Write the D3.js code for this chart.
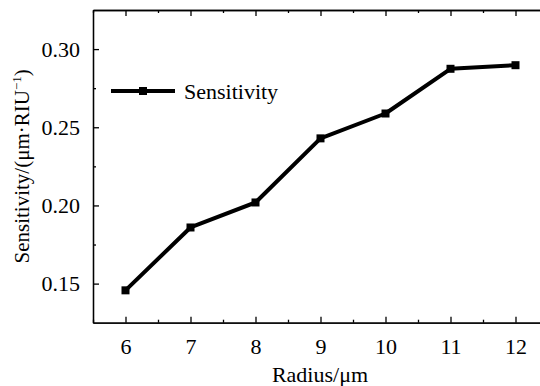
<!DOCTYPE html>
<html>
<head>
<meta charset="utf-8">
<script src="https://cdn.jsdelivr.net/npm/d3@7"></script>
<style>
    html, body { margin: 0; padding: 0; background: #fff; }
    svg text { font-family: "Liberation Serif", "Times New Roman", serif !important; }
</style>
</head>
<body>
<div id="chart"></div>
<script>
    // Data
    var radius = [6, 7, 8, 9, 10, 11, 12];
    var sensitivity = [0.1457, 0.1859, 0.2019, 0.2429, 0.2588, 0.2874, 0.2897];
    var yTicks = [0.15, 0.20, 0.25, 0.30];
    var xTicks = [6, 7, 8, 9, 10, 11, 12];
    var seriesName = "Sensitivity";

    var W = 540, H = 386;
    var plot = { left: 93, right: 548, top: 10, bottom: 322.7 };

    var svg = d3.select("#chart").append("svg")
        .attr("width", W)
        .attr("height", H);

    var x = d3.scaleLinear().domain([5.5, 12.5]).range([plot.left, plot.right]);
    var y = d3.scaleLinear().domain([0.125, 0.325]).range([plot.bottom, plot.top]);

    var xMinor = d3.range(5.5, 12.51, 0.5).filter(function (d) { return xTicks.indexOf(d) < 0; });
    var yMinor = [0.175, 0.225, 0.275];

    function styleAxis(g) {
        g.attr("font-family", null);
        g.select(".domain").attr("stroke", "#000").attr("stroke-width", 1.3);
        g.selectAll(".tick line").attr("stroke", "#000").attr("stroke-width", 1.3);
        g.selectAll(".tick text").attr("fill", "#000")
            .attr("font-size", "22px");
    }

    // Bottom axis, ticks pointing inward
    svg.append("g")
        .attr("transform", "translate(0," + plot.bottom + ")")
        .call(d3.axisBottom(x).tickValues(xTicks).tickSizeInner(-6).tickSizeOuter(0)
            .tickPadding(16).tickFormat(d3.format("d")))
        .call(styleAxis);
    svg.append("g")
        .attr("transform", "translate(0," + plot.bottom + ")")
        .call(d3.axisBottom(x).tickValues(xMinor).tickSizeInner(-3).tickSizeOuter(0).tickFormat(""))
        .call(styleAxis);

    // Top axis
    svg.append("g")
        .attr("transform", "translate(0," + plot.top + ")")
        .call(d3.axisTop(x).tickValues(xTicks).tickSizeInner(-6).tickSizeOuter(0).tickFormat(""))
        .call(styleAxis);
    svg.append("g")
        .attr("transform", "translate(0," + plot.top + ")")
        .call(d3.axisTop(x).tickValues(xMinor).tickSizeInner(-3).tickSizeOuter(0).tickFormat(""))
        .call(styleAxis);

    // Left axis
    svg.append("g")
        .attr("transform", "translate(" + plot.left + ",0)")
        .call(d3.axisLeft(y).tickValues(yTicks).tickSizeInner(-6).tickSizeOuter(0)
            .tickPadding(13).tickFormat(d3.format(".2f")))
        .call(styleAxis);
    svg.append("g")
        .attr("transform", "translate(" + plot.left + ",0)")
        .call(d3.axisLeft(y).tickValues(yMinor).tickSizeInner(-3).tickSizeOuter(0).tickFormat(""))
        .call(styleAxis);

    // Series line
    var pts = radius.map(function (r, i) { return [r, sensitivity[i]]; });
    var line = d3.line()
        .x(function (d) { return x(d[0]); })
        .y(function (d) { return y(d[1]); });

    svg.append("path")
        .datum(pts)
        .attr("fill", "none")
        .attr("stroke", "#000")
        .attr("stroke-width", 4)
        .attr("stroke-linejoin", "round")
        .attr("d", line);

    var ms = 8;
    svg.append("g").selectAll("rect")
        .data(pts)
        .enter().append("rect")
        .attr("x", function (d) { return x(d[0]) - ms / 2; })
        .attr("y", function (d) { return y(d[1]) - ms / 2; })
        .attr("width", ms)
        .attr("height", ms)
        .attr("fill", "#000");

    // Legend
    var lg = svg.append("g").attr("transform", "translate(111,91)");
    lg.append("line")
        .attr("x1", 0).attr("x2", 64).attr("y1", 0).attr("y2", 0)
        .attr("stroke", "#000").attr("stroke-width", 4);
    lg.append("rect")
        .attr("x", 32 - ms / 2).attr("y", -ms / 2)
        .attr("width", ms).attr("height", ms).attr("fill", "#000");
    lg.append("text")
        .attr("x", 73).attr("y", 8)
        .attr("font-size", "22px")
        .attr("fill", "#000")
        .text(seriesName);

    // Axis titles
    svg.append("text")
        .attr("x", 320)
        .attr("y", 382)
        .attr("text-anchor", "middle")
        .attr("font-size", "22px")
        .attr("fill", "#000")
        .text("Radius/μm");

    var yt = svg.append("text")
        .attr("transform", "translate(29," + ((plot.top + plot.bottom) / 2) + ") rotate(-90)")
        .attr("text-anchor", "middle")
        .attr("font-size", "21px")
        .attr("fill", "#000");
    yt.append("tspan").text("Sensitivity/(μm·RIU");
    yt.append("tspan").attr("font-size", "13px").attr("dy", -8).text("−1");
    yt.append("tspan").attr("dy", 8).text(")");
</script>
</body>
</html>
